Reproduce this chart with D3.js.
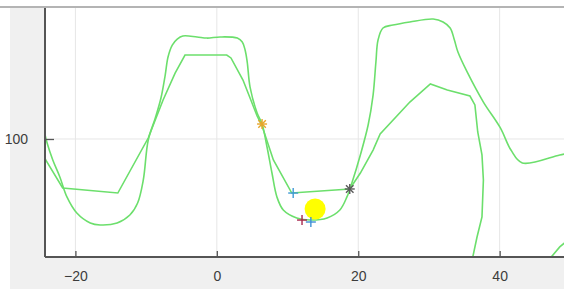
<!DOCTYPE html>
<meta charset="utf-8">
<style>
body { margin: 0; background: #fff; }
.grid line { stroke: #e6e6e6; stroke-width: 1; }
.trace { fill: none; stroke: #6cdf6c; stroke-width: 1.6; }
text { font-family: "Liberation Sans", Arial, sans-serif; font-size: 14px; fill: #3c3c3c; }
</style>
<body>
<script src="https://d3js.org/d3.v7.min.js"></script>
<script>

// tick labels
var xTicks = [-20, 0, 20, 40];
var yTicks = [100];

// outer (rounded) trace
var outerX = [-24.6, -24.0, -23.2, -22.2, -21.2, -19.8, -17.9, -16.5, -14.1, -12.3, -11.2, -10.4, -9.7, -8.7, -7.9, -7.3, -6.9, -6.3, -5.6, -4.8, -2.8, -1.4, 0.45, 2.9, 3.6, 4.0, 4.3, 4.7, 5.7, 6.4, 7.1, 7.8, 8.5, 9.4, 11.3, 13.2, 15.6, 17.4, 18.4, 19.1, 20.3, 21.4, 22.1, 22.5, 22.8, 23.5, 24.9, 27.3, 30.6, 32.0, 33.0, 33.6, 34.1, 35.4, 37.7, 40.1, 41.6, 43.2, 48.5, 50.0];
var outerY = [110.0, 97.1, 85.0, 72.9, 58.6, 47.1, 40.0, 38.6, 40.0, 45.7, 54.3, 70.7, 99.3, 115.0, 129.3, 145.7, 158.6, 167.1, 171.4, 173.6, 172.9, 172.1, 172.9, 172.1, 169.3, 163.6, 155.0, 137.1, 118.6, 110.7, 94.3, 75.7, 58.6, 49.3, 43.6, 42.1, 43.6, 49.3, 58.6, 68.6, 88.6, 110.0, 131.4, 155.0, 170.7, 179.3, 181.4, 183.6, 185.7, 183.6, 179.3, 170.7, 162.1, 147.9, 126.4, 107.9, 92.1, 82.9, 88.6, 90.0];

// inner (angular) trace
var innerX = [-24.6, -24.2, -21.8, -14.0, -9.7, -7.6, -5.9, -4.5, 1.4, 2.0, 3.7, 5.7, 6.4, 8.0, 10.6, 18.8, 20.3, 22.1, 23.1, 27.3, 30.2, 32.6, 35.8, 36.5, 36.9, 37.5, 37.7, 37.5, 36.8, 36.2, 35.8, 46.4, 47.3, 48.5, 50.0];
var innerY = [90.7, 85.0, 65.0, 61.4, 100.7, 127.9, 147.1, 160.0, 160.0, 157.9, 142.1, 116.4, 109.3, 85.0, 61.4, 64.3, 75.7, 92.1, 103.6, 126.4, 139.3, 135.0, 130.7, 124.3, 105.0, 88.6, 70.7, 44.3, 30.0, 15.7, 2.9, 2.9, 15.7, 22.9, 29.3];

// markers
var markX = [6.4, 10.8, 18.8, 12.05, 13.3];
var markY = [110.7, 61.4, 64.3, 42.1, 40.7];
var markShape = ["asterisk", "plus", "asterisk", "plus", "plus"];
var markColor = ["#e8a52a", "#3f9ad6", "#5a5a5a", "#a8284e", "#3f8fd6"];
var dotX = [13.9], dotY = [50.0];

var W = 564, H = 289;
var plot = {left: 45, right: 564, top: 8, bottom: 257};

var x = d3.scaleLinear().domain([-24.3, 49.1]).range([plot.left, plot.right]);
var y = d3.scaleLinear().domain([15.7, 194.3]).range([plot.bottom, plot.top - 1]);

var svg = d3.select("body").append("svg")
    .attr("width", W).attr("height", H);

// figure background
svg.append("rect").attr("x", 10).attr("y", 7).attr("width", W - 10).attr("height", H - 7)
    .attr("fill", "#f0f0f0");
svg.append("rect").attr("x", plot.left).attr("y", plot.top)
    .attr("width", plot.right - plot.left).attr("height", plot.bottom - plot.top)
    .attr("fill", "#fff");
svg.append("line").attr("x1", 0).attr("x2", W).attr("y1", 7).attr("y2", 7)
    .attr("stroke", "#b4b4b4").attr("stroke-width", 2);

svg.append("defs").append("clipPath").attr("id", "clip")
  .append("rect").attr("x", plot.left).attr("y", plot.top)
    .attr("width", plot.right - plot.left).attr("height", plot.bottom - plot.top);

// grid
var grid = svg.append("g").attr("class", "grid");
grid.selectAll(".vx").data(xTicks).enter().append("line")
    .attr("x1", function(d) { return x(d); }).attr("x2", function(d) { return x(d); })
    .attr("y1", plot.top).attr("y2", plot.bottom);
grid.selectAll(".hy").data(yTicks).enter().append("line")
    .attr("x1", plot.left).attr("x2", plot.right)
    .attr("y1", function(d) { return y(d); }).attr("y2", function(d) { return y(d); });

var g = svg.append("g").attr("clip-path", "url(#clip)");

var outer = outerX.map(function(v, i) { return [v, outerY[i]]; });
var inner = innerX.map(function(v, i) { return [v, innerY[i]]; });

g.append("path").attr("class", "trace")
    .attr("d", d3.line().x(function(d) { return x(d[0]); }).y(function(d) { return y(d[1]); })
      .curve(d3.curveCatmullRom.alpha(0.5))(outer));
g.append("path").attr("class", "trace")
    .attr("d", d3.line().x(function(d) { return x(d[0]); }).y(function(d) { return y(d[1]); })(inner));

// yellow dot
g.selectAll(".dot").data(dotX).enter().append("circle")
    .attr("cx", function(d) { return x(d); })
    .attr("cy", function(d, i) { return y(dotY[i]); })
    .attr("r", 10.5).attr("fill", "#ffff00");

// plus / asterisk markers
markX.forEach(function(v, i) {
  var cx = x(v), cy = y(markY[i]), s = 5;
  var m = g.append("g").attr("stroke", markColor[i]).attr("stroke-width", 1.4);
  m.append("line").attr("x1", cx - s).attr("x2", cx + s).attr("y1", cy).attr("y2", cy);
  m.append("line").attr("x1", cx).attr("x2", cx).attr("y1", cy - s).attr("y2", cy + s);
  if (markShape[i] == "asterisk") {
    var d = s * 0.75;
    m.append("line").attr("x1", cx - d).attr("x2", cx + d).attr("y1", cy - d).attr("y2", cy + d);
    m.append("line").attr("x1", cx - d).attr("x2", cx + d).attr("y1", cy + d).attr("y2", cy - d);
  }
});

// axes
var xAxis = svg.append("g")
    .attr("transform", "translate(0," + plot.bottom + ")")
    .call(d3.axisBottom(x).tickValues(xTicks).tickSizeInner(-6).tickSizeOuter(0).tickPadding(14));
var yAxis = svg.append("g")
    .attr("transform", "translate(" + plot.left + ",0)")
    .call(d3.axisLeft(y).tickValues(yTicks).tickSizeInner(-9).tickSizeOuter(0).tickPadding(17));

[xAxis, yAxis].forEach(function(a) {
  a.select(".domain").attr("stroke", "#555").attr("stroke-width", 2);
  a.selectAll(".tick line").attr("stroke", "#555").attr("stroke-width", 1.3);
  a.selectAll("text").attr("fill", "#3c3c3c").style("font-size", "14px")
    .style("font-family", "'Liberation Sans', Arial, sans-serif");
});
xAxis.select(".domain").attr("d", "M" + plot.left + ",0H" + W);
yAxis.select(".domain").attr("d", "M0," + plot.top + "V" + plot.bottom);

</script>
</body>
